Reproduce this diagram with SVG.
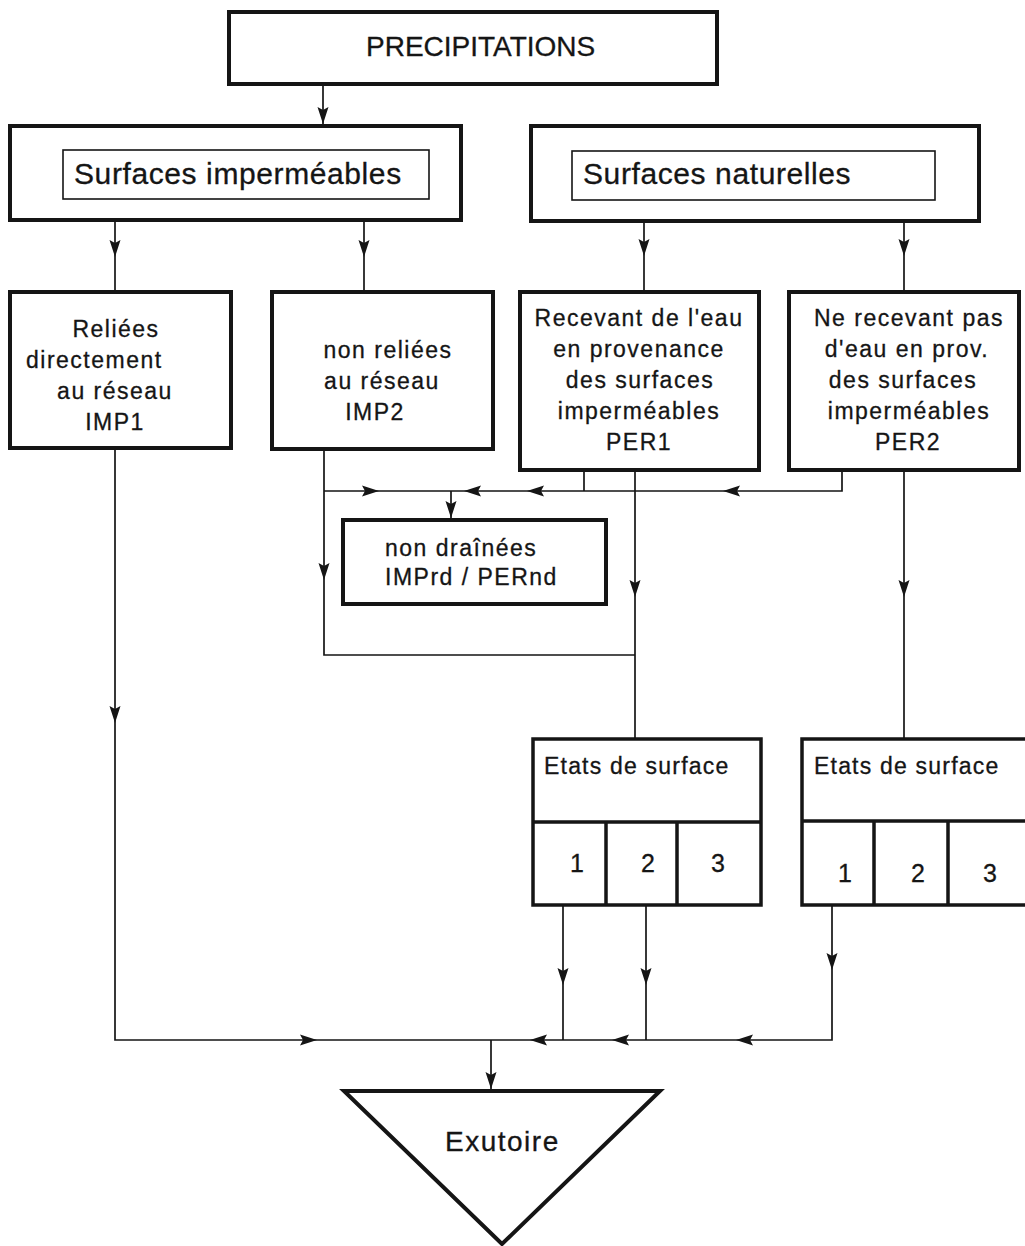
<svg xmlns="http://www.w3.org/2000/svg" xmlns:xlink="http://www.w3.org/1999/xlink" width="1025" height="1246" viewBox="0 0 1025 1246">
<style>
  .box{fill:#fff;stroke:#151515;stroke-width:4}
  .inner{fill:none;stroke:#151515;stroke-width:1.6}
  .cell{fill:none;stroke:#151515;stroke-width:3.5}
  .ln{fill:none;stroke:#151515;stroke-width:1.7}
  .ah{fill:#151515}
  text{font-family:"Liberation Sans",Arial,sans-serif;fill:#151515;stroke:#151515;stroke-width:0.3}
  .t22{font-size:23px;letter-spacing:1.5px}
  .mid{text-anchor:middle}
  .big{font-size:30px;letter-spacing:0.6px}
  .num{font-size:25px}
</style>
<defs>
  <path id="ah" class="ah" d="M0,0 L-17,-5.5 L-14,0 L-17,5.5 Z"/>
</defs>
<rect width="1025" height="1246" fill="#fff"/>

<g id="connectors">
  <path class="ln" d="M323,84 V124"/>
  <path class="ln" d="M115,220 V292"/>
  <path class="ln" d="M364,220 V292"/>
  <path class="ln" d="M644,221 V292"/>
  <path class="ln" d="M904,221 V292"/>
  <path class="ln" d="M115,448 V1040 H832 V905"/>
  <path class="ln" d="M324,449 V655 H635"/>
  <path class="ln" d="M324,491 H842 V470"/>
  <path class="ln" d="M584,470 V491"/>
  <path class="ln" d="M451,491 V520"/>
  <path class="ln" d="M635,470 V739"/>
  <path class="ln" d="M904,470 V739"/>
  <path class="ln" d="M563,905 V1040"/>
  <path class="ln" d="M646,905 V1040"/>
  <path class="ln" d="M491,1040 V1091"/>
  <use xlink:href="#ah" transform="translate(323,124) rotate(90)"/>
  <use xlink:href="#ah" transform="translate(115,257) rotate(90)"/>
  <use xlink:href="#ah" transform="translate(364,257) rotate(90)"/>
  <use xlink:href="#ah" transform="translate(644,256) rotate(90)"/>
  <use xlink:href="#ah" transform="translate(904,256) rotate(90)"/>
  <use xlink:href="#ah" transform="translate(115,723) rotate(90)"/>
  <use xlink:href="#ah" transform="translate(324,580) rotate(90)"/>
  <use xlink:href="#ah" transform="translate(379,491)"/>
  <use xlink:href="#ah" transform="translate(464,491) rotate(180)"/>
  <use xlink:href="#ah" transform="translate(527,491) rotate(180)"/>
  <use xlink:href="#ah" transform="translate(723,491) rotate(180)"/>
  <use xlink:href="#ah" transform="translate(451,518) rotate(90)"/>
  <use xlink:href="#ah" transform="translate(635,597) rotate(90)"/>
  <use xlink:href="#ah" transform="translate(904,597) rotate(90)"/>
  <use xlink:href="#ah" transform="translate(563,985) rotate(90)"/>
  <use xlink:href="#ah" transform="translate(646,985) rotate(90)"/>
  <use xlink:href="#ah" transform="translate(832,970) rotate(90)"/>
  <use xlink:href="#ah" transform="translate(317,1040)"/>
  <use xlink:href="#ah" transform="translate(530,1040) rotate(180)"/>
  <use xlink:href="#ah" transform="translate(612,1040) rotate(180)"/>
  <use xlink:href="#ah" transform="translate(736,1040) rotate(180)"/>
  <use xlink:href="#ah" transform="translate(491,1089) rotate(90)"/>
</g>

<g id="precipitations">
  <rect class="box" x="229" y="12" width="488" height="72"/>
  <text x="366" y="56" style="font-size:28px">PRECIPITATIONS</text>
</g>

<g id="surfaces-impermeables">
  <rect class="box" x="10" y="126" width="451" height="94"/>
  <rect class="inner" x="63" y="150" width="366" height="49"/>
  <text class="big" x="74" y="184">Surfaces imperméables</text>
</g>

<g id="surfaces-naturelles">
  <rect class="box" x="531" y="126" width="448" height="95"/>
  <rect class="inner" x="572" y="151" width="363" height="49"/>
  <text class="big" x="583" y="184">Surfaces naturelles</text>
</g>

<g id="imp1">
  <rect class="box" x="10" y="292" width="221" height="156"/>
  <text class="t22 mid" x="116" y="337">Reliées</text>
  <text class="t22" x="26" y="368">directement</text>
  <text class="t22 mid" x="115" y="399">au réseau</text>
  <text class="t22 mid" x="115" y="430">IMP1</text>
</g>

<g id="imp2">
  <rect class="box" x="272" y="292" width="221" height="157"/>
  <text class="t22 mid" x="388" y="358">non reliées</text>
  <text class="t22 mid" x="382" y="389">au réseau</text>
  <text class="t22 mid" x="375" y="420">IMP2</text>
</g>

<g id="per1">
  <rect class="box" x="520" y="292" width="239" height="178"/>
  <text class="t22 mid" x="639" y="326">Recevant de l'eau</text>
  <text class="t22 mid" x="639" y="357">en provenance</text>
  <text class="t22 mid" x="640" y="388">des surfaces</text>
  <text class="t22 mid" x="639" y="419">imperméables</text>
  <text class="t22 mid" x="639" y="450">PER1</text>
</g>

<g id="per2">
  <rect class="box" x="789" y="292" width="230" height="178"/>
  <text class="t22 mid" x="909" y="326">Ne recevant pas</text>
  <text class="t22 mid" x="907" y="357">d'eau en prov.</text>
  <text class="t22 mid" x="903" y="388">des surfaces</text>
  <text class="t22 mid" x="909" y="419">imperméables</text>
  <text class="t22 mid" x="908" y="450">PER2</text>
</g>

<g id="non-drainees">
  <rect class="box" x="343" y="520" width="263" height="84"/>
  <text class="t22" x="385" y="556">non draînées</text>
  <text class="t22" x="385" y="585">IMPrd / PERnd</text>
</g>

<g id="etats-1">
  <rect class="cell" x="533" y="739" width="228" height="166"/>
  <path class="cell" d="M533,822 H761 M606,822 V905 M677,822 V905"/>
  <text class="t22" x="544" y="774" style="letter-spacing:1.2px">Etats de surface</text>
  <text class="num mid" x="577" y="872">1</text>
  <text class="num mid" x="648" y="872">2</text>
  <text class="num mid" x="718" y="872">3</text>
</g>

<g id="etats-2">
  <rect class="cell" x="802" y="739" width="240" height="166"/>
  <path class="cell" d="M802,821 H1030 M874,821 V905 M948,821 V905"/>
  <text class="t22" x="814" y="774" style="letter-spacing:1.2px">Etats de surface</text>
  <text class="num mid" x="845" y="882">1</text>
  <text class="num mid" x="918" y="882">2</text>
  <text class="num mid" x="990" y="882">3</text>
</g>

<g id="exutoire">
  <polygon class="box" points="344,1091 660,1091 502,1244"/>
  <text x="445" y="1151" style="font-size:28px;letter-spacing:1.5px">Exutoire</text>
</g>
</svg>
